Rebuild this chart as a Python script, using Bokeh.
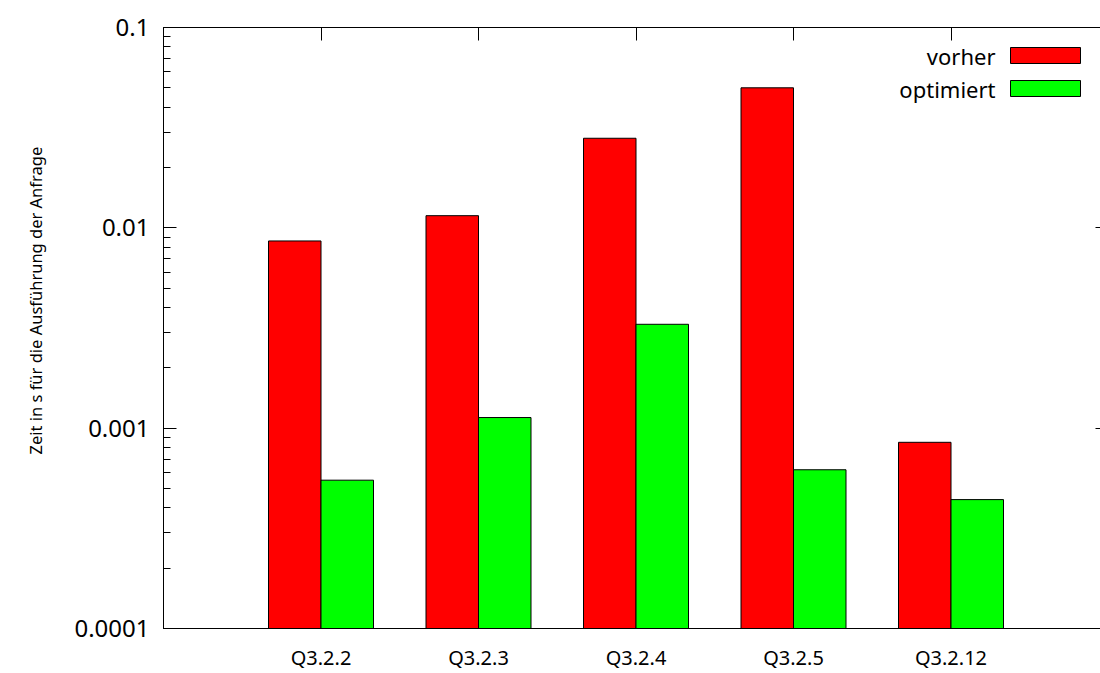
import math
from bokeh.plotting import figure
from bokeh.models import (Range1d, LinearAxis, LogAxis, FixedTicker, LogTicker, Title,
                          CustomJSTickFormatter, ColumnDataSource, Label, BoxAnnotation)
from bokeh.transform import dodge
from bokeh.embed import file_html
from bokeh.resources import INLINE

categories = ["Q3.2.2", "Q3.2.3", "Q3.2.4", "Q3.2.5", "Q3.2.12"]
vorher = [0.0086, 0.0115, 0.028, 0.050, 0.00085]
optimiert = [0.00055, 0.00113, 0.0033, 0.00062, 0.00044]
y_label = "Zeit in s für die Ausführung der Anfrage"
series_names = ["vorher", "optimiert"]
series_colors = ["#ff0000", "#00ff00"]

FONT = "Noto Sans"
y_min, y_max = 1e-4, 0.1

idx = list(range(len(categories)))
src = ColumnDataSource(dict(x=idx, vorher=vorher, optimiert=optimiert,
                            base=[y_min] * len(idx)))

p = figure(width=1108, height=673, y_axis_type="log",
           x_range=Range1d(-1, len(categories)), y_range=Range1d(y_min, y_max),
           output_backend="svg", toolbar_location=None,
           min_border_left=163, min_border_top=27, min_border_right=0, min_border_bottom=10)
p.xgrid.visible = False
p.ygrid.visible = False
p.outline_line_color = "black"
p.outline_line_width = 1
p.background_fill_color = "white"
p.border_fill_color = "white"

bw = 1 / 3
p.vbar(x=dodge("x", -bw / 2, range=p.x_range), top="vorher", bottom="base", width=bw,
       source=src, fill_color=series_colors[0], line_color="black", line_width=1)
p.vbar(x=dodge("x", bw / 2, range=p.x_range), top="optimiert", bottom="base", width=bw,
       source=src, fill_color=series_colors[1], line_color="black", line_width=1)

fmt = CustomJSTickFormatter(code="return Number(tick.toPrecision(1)).toString();")
blank = CustomJSTickFormatter(code="return '';")

# left y axis
ya = p.yaxis[0]
ya.ticker = LogTicker(num_minor_ticks=10)
ya.formatter = fmt
ya.major_tick_in = 13
ya.major_tick_out = 0
ya.minor_tick_in = 7
ya.minor_tick_out = 0
ya.major_label_standoff = 14
ya.major_label_text_font = FONT
ya.major_label_text_font_size = "24px"
ya.major_label_text_color = "black"
ya.axis_line_color = "black"

# right y axis (ticks only)
ry = LogAxis(ticker=LogTicker(num_minor_ticks=10), formatter=blank,
             major_tick_in=13, major_tick_out=0,
             minor_tick_in=7, minor_tick_out=0,
             major_label_standoff=0, axis_line_color=None)
p.add_layout(ry, "right")

# bottom x axis
xa = p.xaxis[0]
xa.ticker = FixedTicker(ticks=idx)
xa.major_label_overrides = {i: c for i, c in zip(idx, categories)}
xa.major_tick_in = 0
xa.major_tick_out = 0
xa.minor_tick_line_color = None
xa.major_label_standoff = 15
xa.major_label_text_font = FONT
xa.major_label_text_font_size = "20px"
xa.major_label_text_color = "black"
xa.axis_line_color = "black"

# top x axis (ticks only)
tx = LinearAxis(ticker=FixedTicker(ticks=idx), formatter=blank,
                major_tick_in=13, major_tick_out=0,
                minor_tick_line_color=None,
                major_label_standoff=0, axis_line_color=None)
p.add_layout(tx, "above")

# y axis title
p.add_layout(Title(text=y_label, align="left", offset=174, vertical_align="top",
                   standoff=45, text_font=FONT, text_font_size="16.5px",
                   text_font_style="normal", text_color="black"), "left")

# legend (gnuplot style: text left, box right)
for i, (name, col) in enumerate(zip(series_names, series_colors)):
    cy = 573 - 33 * i
    p.add_layout(Label(x=832, y=cy, x_units="screen", y_units="screen", text=name,
                       text_align="right", text_baseline="middle",
                       text_font=FONT, text_font_size="22px", text_color="black"))
    p.add_layout(BoxAnnotation(left=847, right=917, bottom=cy - 8, top=cy + 8,
                               left_units="screen", right_units="screen",
                               bottom_units="screen", top_units="screen",
                               fill_color=col, fill_alpha=1, line_color="black",
                               line_width=1, line_alpha=1))

open("out.html", "w").write(file_html(p, INLINE))
